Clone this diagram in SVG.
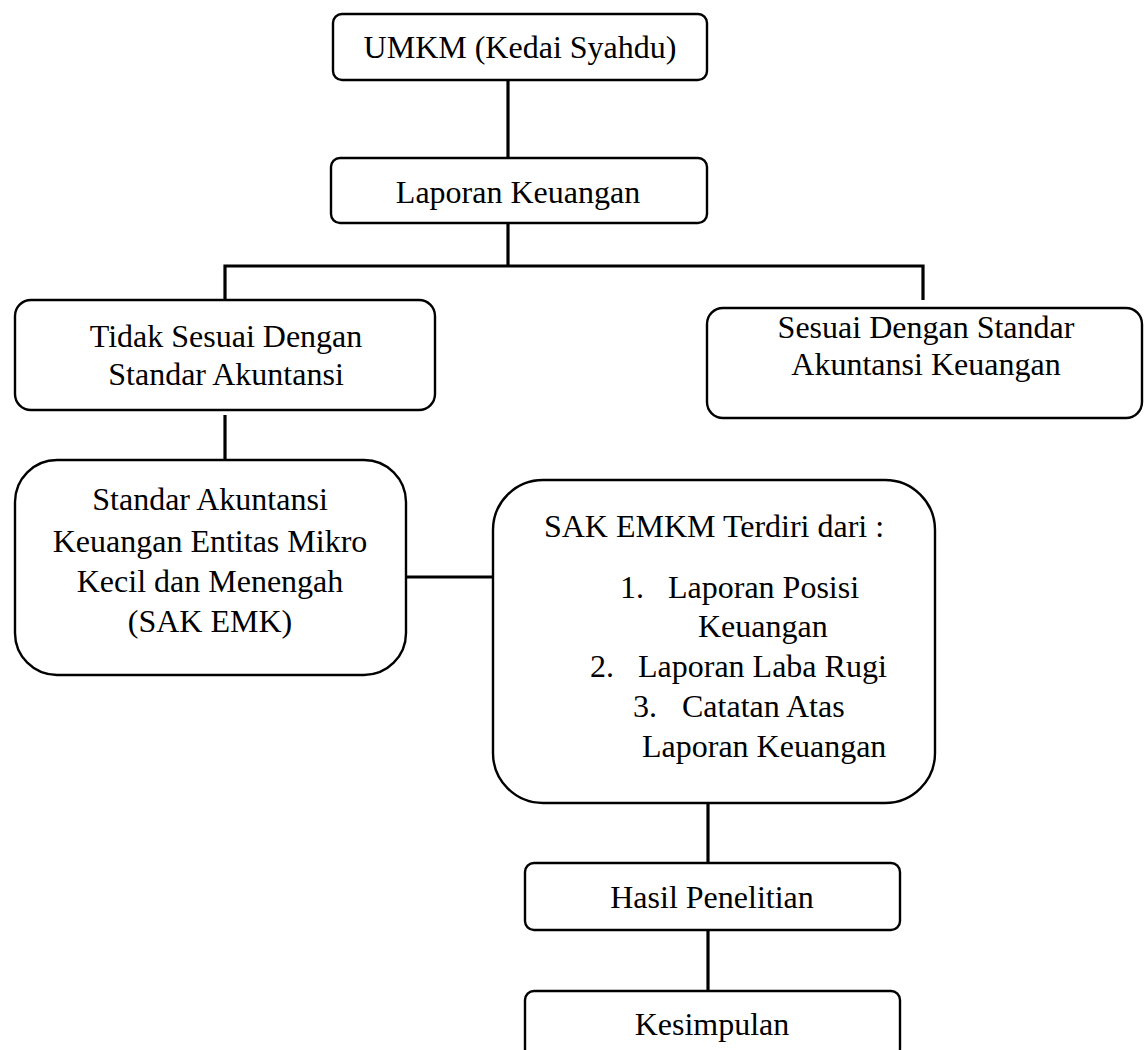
<svg xmlns="http://www.w3.org/2000/svg" width="1145" height="1050" viewBox="0 0 1145 1050">
<style>
.box{fill:#fff;stroke:#000;stroke-width:2.4}
.ln{fill:none;stroke:#000;stroke-width:3.2}
text{font-family:"Liberation Serif","Times New Roman",serif;font-size:32px;fill:#000}
.c{text-anchor:middle}
</style>
<rect width="1145" height="1050" fill="#fff"/>
<g id="connectors">
<line class="ln" x1="508" y1="80" x2="508" y2="158"/>
<line class="ln" x1="508" y1="223" x2="508" y2="266"/>
<polyline class="ln" points="225,307 225,266 923,266 923,300"/>
<line class="ln" x1="225" y1="415" x2="225" y2="460"/>
<line class="ln" x1="406" y1="577" x2="493" y2="577"/>
<line class="ln" x1="708" y1="803" x2="708" y2="863"/>
<line class="ln" x1="708" y1="930" x2="708" y2="991"/>
</g>
<g id="umkm"><rect class="box" x="333" y="14" width="374" height="66" rx="9"/><text class="c" x="520" y="58">UMKM (Kedai Syahdu)</text></g>
<g id="laporan"><rect class="box" x="331" y="158" width="376" height="65" rx="9"/><text class="c" x="518" y="203">Laporan Keuangan</text></g>
<g id="tidak"><rect class="box" x="15" y="300" width="420" height="110" rx="16"/><text class="c" x="226" y="347">Tidak Sesuai Dengan</text><text class="c" x="226" y="385">Standar Akuntansi</text></g>
<g id="sesuai"><rect class="box" x="707" y="308" width="435" height="110" rx="16"/><text class="c" x="926" y="338">Sesuai Dengan Standar</text><text class="c" x="926" y="375">Akuntansi Keuangan</text></g>
<g id="sakemk"><rect class="box" x="15" y="460" width="391" height="215" rx="42"/><text class="c" x="210" y="510">Standar Akuntansi</text><text class="c" x="210" y="552">Keuangan Entitas Mikro</text><text class="c" x="210" y="592">Kecil dan Menengah</text><text class="c" x="210" y="632">(SAK EMK)</text></g>
<g id="sakemkm"><rect class="box" x="493" y="480" width="442" height="323" rx="50"/>
<text class="c" x="714" y="537">SAK EMKM Terdiri dari :</text>
<text x="620" y="598">1.</text><text x="668" y="598">Laporan Posisi</text>
<text x="698" y="637">Keuangan</text>
<text x="590" y="677">2.</text><text x="638" y="677">Laporan Laba Rugi</text>
<text x="633" y="717">3.</text><text x="682" y="717">Catatan Atas</text>
<text x="642" y="757">Laporan Keuangan</text>
</g>
<g id="hasil"><rect class="box" x="525" y="863" width="375" height="67" rx="9"/><text class="c" x="712" y="908">Hasil Penelitian</text></g>
<g id="kesimpulan"><rect class="box" x="525" y="991" width="375" height="67" rx="9"/><text class="c" x="712" y="1035">Kesimpulan</text></g>
</svg>
